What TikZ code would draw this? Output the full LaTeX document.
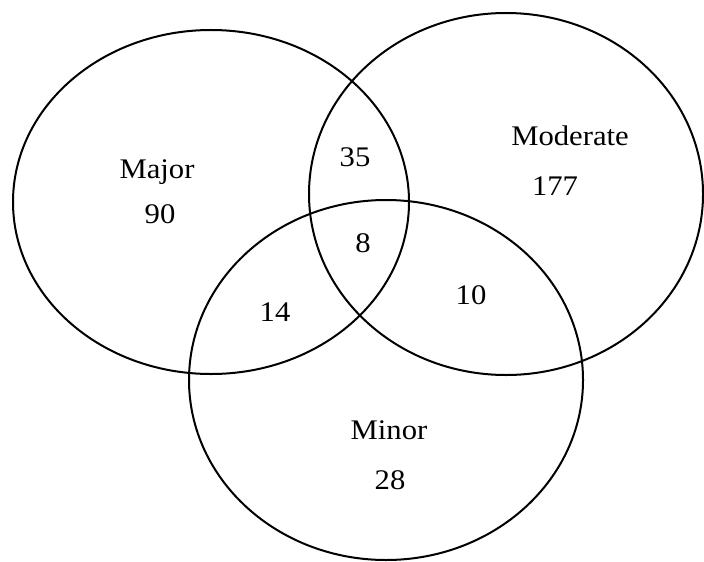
\documentclass[tikz,border=0pt]{standalone}
\usepackage{fontspec}
\setmainfont{Liberation Serif}
\usepackage{tikz}

\tikzset{
  set/.style={line width=1pt},
  lab/.style={font=\fontsize{14.2}{17}\selectfont, xscale=1.08, transform shape, inner sep=0pt}
}

\begin{document}
\begin{tikzpicture}[x=0.5pt,y=-0.5pt]
 \useasboundingbox (0,0) rectangle (704,561);
 % the three sets
 \draw[set] (211,202) ellipse [x radius=198, y radius=172];
 \draw[set] (506,194) ellipse [x radius=197, y radius=181];
 \draw[set] (386,380) ellipse [x radius=197, y radius=180];
 % names and counts
 \node[lab] (major) at (157,172) {Major};
 \node[lab] (majn) at (160,214) {90};
 \node[lab] (moder) at (570,136) {Moderate};
 \node[lab] (modn) at (555,186) {177};
 \node[lab] (minor) at (389,430) {Minor};
 \node[lab] (minn) at (390,480) {28};
 \node[lab] (ab) at (355,157) {35};
 \node[lab] (abc) at (363,243) {8};
 \node[lab] (ac) at (275,312) {14};
 \node[lab] (bc) at (471,295) {10};
\end{tikzpicture}
\end{document}
